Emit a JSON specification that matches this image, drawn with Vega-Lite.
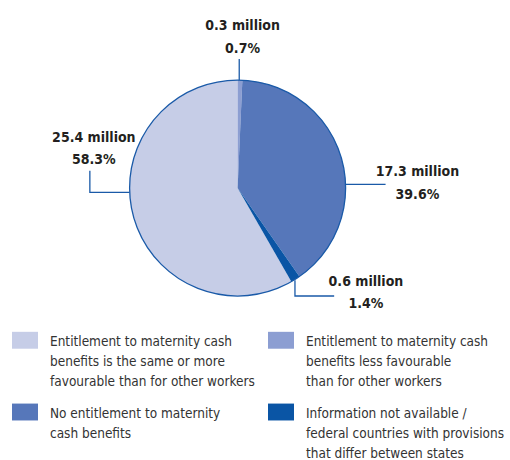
{
  "$schema": "https://vega.github.io/schema/vega-lite/v6.json",
  "width": 510,
  "height": 320,
  "autosize": {"type": "none"},
  "padding": {"left": 0, "top": 0, "right": 0, "bottom": 140},
  "config": {
    "view": {"stroke": null},
    "font": "DejaVu Sans Condensed",
    "style": {"guide-label": {"lineHeight": 20}}
  },
  "datasets": {
    "slices": [
      {"category": "Entitlement to maternity cash|benefits is the same or more|favourable than for other workers", "share": 58.3, "ord": 4},
      {"category": "Entitlement to maternity cash|benefits less favourable|than for other workers", "share": 0.7, "ord": 1},
      {"category": "No entitlement to maternity|cash benefits", "share": 39.6, "ord": 2},
      {"category": "Information not available /|federal countries with provisions|that differ between states", "share": 1.4, "ord": 3}
    ],
    "labels": [
      {"label": "0.3 million\n0.7%", "lx": 0.046, "ly": 1.463},
      {"label": "25.4 million\n58.3%", "lx": -1.331, "ly": 0.429},
      {"label": "17.3 million\n39.6%", "lx": 1.665, "ly": 0.111},
      {"label": "0.6 million\n1.4%", "lx": 1.188, "ly": -0.907}
    ],
    "leaders": [
      {"leader": "a", "step": 1, "lx": 0.015, "ly": 1.0},
      {"leader": "a", "step": 2, "lx": 0.015, "ly": 1.194},
      {"leader": "b", "step": 1, "lx": -1.368, "ly": 0.160},
      {"leader": "b", "step": 2, "lx": -1.368, "ly": -0.040},
      {"leader": "b", "step": 3, "lx": -1.0, "ly": -0.040},
      {"leader": "c", "step": 1, "lx": 1.0, "ly": 0.034},
      {"leader": "c", "step": 2, "lx": 1.37, "ly": 0.034},
      {"leader": "d", "step": 1, "lx": 0.531, "ly": -0.855},
      {"leader": "d", "step": 2, "lx": 0.531, "ly": -1.0},
      {"leader": "d", "step": 3, "lx": 0.894, "ly": -1.0}
    ]
  },
  "layer": [
    {
      "data": {"name": "slices"},
      "mark": {"type": "arc", "outerRadius": 108},
      "encoding": {
        "x": {"datum": 0, "type": "quantitative", "axis": null, "scale": {"domain": [-2.2, 2.522], "nice": false, "zero": false}},
        "y": {"datum": 0, "type": "quantitative", "axis": null, "scale": {"domain": [-1.222, 1.741], "nice": false, "zero": false}},
        "theta": {"field": "share", "type": "quantitative", "stack": true},
        "order": {"field": "ord", "type": "quantitative"},
        "color": {
          "field": "category",
          "type": "nominal",
          "scale": {
            "domain": [
              "Entitlement to maternity cash|benefits is the same or more|favourable than for other workers",
              "Entitlement to maternity cash|benefits less favourable|than for other workers",
              "No entitlement to maternity|cash benefits",
              "Information not available /|federal countries with provisions|that differ between states"
            ],
            "range": ["#c6cde7", "#8c9ed2", "#5677ba", "#0a55a5"]
          },
          "legend": {
            "title": null,
            "orient": "none",
            "legendX": 12,
            "legendY": 333,
            "direction": "horizontal",
            "columns": 2,
            "columnPadding": 13,
            "rowPadding": 14,
            "symbolType": "M-1,-1.11L1,-1.11L1,0.19L-1,0.19Z",
            "symbolSize": 676,
            "symbolStrokeWidth": 0,
            "symbolOpacity": 1,
            "labelExpr": "split(datum.label, '|')",
            "labelFont": "DejaVu Sans Condensed",
            "labelFontSize": 13.5,
            "labelColor": "#333333",
            "labelOffset": 12,
            "labelLimit": 400,
            "labelBaseline": "alphabetic"
          }
        }
      }
    },
    {
      "data": {"values": [{"ring": 1}]},
      "mark": {"type": "arc", "outerRadius": 108, "theta": 0, "theta2": 6.2832, "fill": null, "stroke": "#1a5aa8", "strokeWidth": 1.3},
      "encoding": {
        "x": {"datum": 0, "type": "quantitative"},
        "y": {"datum": 0, "type": "quantitative"}
      }
    },
    {
      "data": {"name": "leaders"},
      "mark": {"type": "line", "color": "#1a5aa8", "strokeWidth": 1.3},
      "encoding": {
        "x": {"field": "lx", "type": "quantitative"},
        "y": {"field": "ly", "type": "quantitative"},
        "detail": {"field": "leader", "type": "nominal"},
        "order": {"field": "step", "type": "quantitative"}
      }
    },
    {
      "data": {"name": "labels"},
      "mark": {"type": "text", "lineBreak": "\n", "lineHeight": 22.5, "align": "center", "baseline": "alphabetic", "font": "DejaVu Sans Condensed", "fontWeight": "bold", "fontSize": 14, "color": "#231f20"},
      "encoding": {
        "x": {"field": "lx", "type": "quantitative"},
        "y": {"field": "ly", "type": "quantitative"},
        "text": {"field": "label", "type": "nominal"}
      }
    }
  ]
}
